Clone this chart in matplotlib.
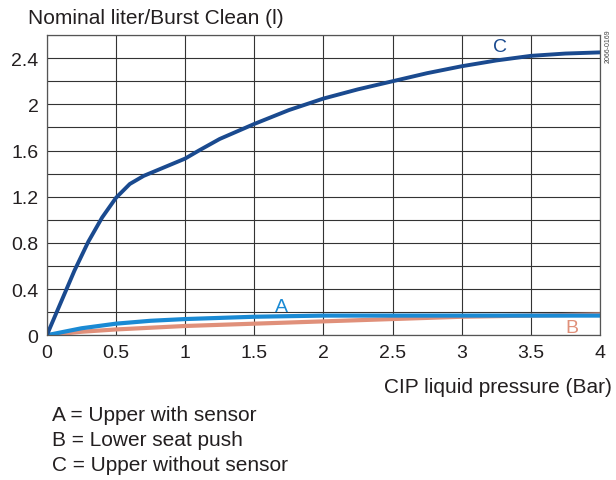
import matplotlib.pyplot as plt
import numpy as np

plt.rcParams['font.family'] = ['Liberation Sans', 'DejaVu Sans']

# Data
pressure_c = [0, 0.1, 0.2, 0.3, 0.4, 0.5, 0.6, 0.7, 0.8, 0.9, 1.0, 1.1, 1.25,
              1.5, 1.75, 2.0, 2.25, 2.5, 2.75, 3.0, 3.25, 3.5, 3.75, 4.0]
liters_c = [0, 0.28, 0.56, 0.81, 1.02, 1.19, 1.31, 1.38, 1.43, 1.48, 1.53, 1.60,
            1.70, 1.83, 1.95, 2.05, 2.13, 2.20, 2.27, 2.33, 2.38, 2.42, 2.44, 2.45]

pressure_a = [0, 0.25, 0.5, 0.75, 1.0, 1.5, 2.0, 2.5, 3.0, 3.5, 4.0]
liters_a = [0, 0.06, 0.10, 0.125, 0.14, 0.16, 0.17, 0.17, 0.17, 0.17, 0.17]

pressure_b = [0, 0.25, 0.5, 1.0, 1.5, 2.0, 2.5, 3.0, 3.5, 4.0]
liters_b = [0, 0.03, 0.05, 0.08, 0.10, 0.12, 0.14, 0.16, 0.17, 0.18]

x_ticks = [0, 0.5, 1, 1.5, 2, 2.5, 3, 3.5, 4]
x_tick_labels = ['0', '0.5', '1', '1.5', '2', '2.5', '3', '3.5', '4']
y_ticks = [0, 0.4, 0.8, 1.2, 1.6, 2.0, 2.4]
y_tick_labels = ['0', '0.4', '0.8', '1.2', '1.6', '2', '2.4']

col_c = '#1a4a8f'
col_a = '#1a8ad4'
col_b = '#e0907a'
text_color = '#231f20'

fig = plt.figure(figsize=(6.16, 4.81), dpi=100)
ax = fig.add_axes([0.076, 0.301, 0.898, 0.624])

ax.set_xlim(0, 4)
ax.set_ylim(0, 2.6)
ax.set_xticks(x_ticks)
ax.set_xticklabels(x_tick_labels)
ax.set_yticks(y_ticks)
ax.set_yticklabels(y_tick_labels)
ax.set_yticks(np.arange(0, 2.61, 0.2), minor=True)
ax.tick_params(which='both', length=0, labelsize=14, colors=text_color, pad=6)
ax.grid(True, which='both', color='#333333', linewidth=0.8)
ax.set_axisbelow(True)
for s in ax.spines.values():
    s.set_color('#555555')
    s.set_linewidth(0.9)

ax.plot(pressure_b, liters_b, color=col_b, linewidth=3, solid_capstyle='round')
ax.plot(pressure_a, liters_a, color=col_a, linewidth=3, solid_capstyle='round')
ax.plot(pressure_c, liters_c, color=col_c, linewidth=2.8, solid_capstyle='round',
        solid_joinstyle='round')

ax.text(3.28, 2.5, 'C', color=col_c, fontsize=14, ha='center', va='center')
ax.text(1.7, 0.245, 'A', color=col_a, fontsize=14, ha='center', va='center')
ax.text(3.8, 0.065, 'B', color=col_b, fontsize=14, ha='center', va='center')

fig.text(0.045, 0.962, 'Nominal liter/Burst Clean (l)', fontsize=15,
         color=text_color, ha='left', va='center')
fig.text(0.994, 0.195, 'CIP liquid pressure (Bar)', fontsize=15,
         color=text_color, ha='right', va='center')
fig.text(0.987, 0.905, '2066-0169', fontsize=5, color='#444444',
         rotation=90, ha='center', va='center')

legend_lines = ['A = Upper with sensor', 'B = Lower seat push', 'C = Upper without sensor']
for i, line in enumerate(legend_lines):
    fig.text(0.084, 0.137 - i * 0.052, line, fontsize=15, color=text_color,
             ha='left', va='center')

fig.savefig('out.png', dpi=100)
